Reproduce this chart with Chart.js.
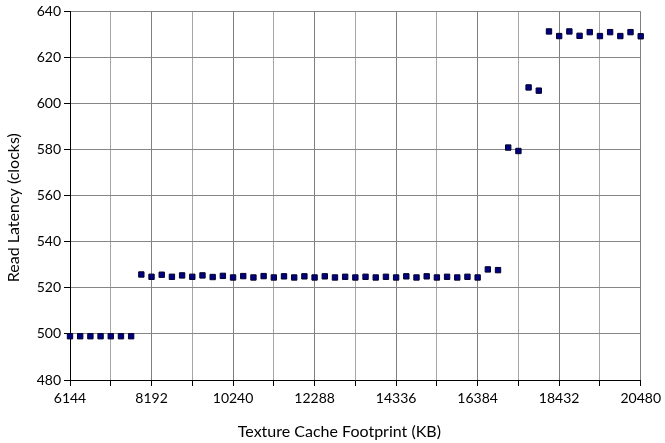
<!DOCTYPE html>
<html>
<head>
<meta charset="utf-8">
<script src="https://cdn.jsdelivr.net/npm/chart.js@4"></script>
<style>
  html, body { margin: 0; padding: 0; background: #fff; }
  #wrap { width: 665px; height: 443px; }
</style>
</head>
<body>
<div id="wrap"><canvas id="latencyChart" width="665" height="443"></canvas></div>
<script>
// Texture cache footprint (KB), one sample every 256 KB
const footprintKB = [
  6144, 6400, 6656, 6912, 7168, 7424, 7680,
  7936, 8192, 8448, 8704, 8960, 9216, 9472, 9728, 9984, 10240, 10496,
  10752, 11008, 11264, 11520, 11776, 12032, 12288, 12544, 12800, 13056, 13312,
  13568, 13824, 14080, 14336, 14592, 14848, 15104, 15360, 15616, 15872, 16128, 16384,
  16640, 16896, 17152, 17408, 17664, 17920,
  18176, 18432, 18688, 18944, 19200, 19456, 19712, 19968, 20224, 20480
];

// Read latency (clocks)
const readLatency = [
  499, 499, 499, 499, 499, 499, 499,
  525.8, 524.8, 525.7, 524.8, 525.4, 524.8, 525.4, 524.7, 525.2, 524.5, 525.1,
  524.5, 525.1, 524.5, 525.0, 524.5, 525.0, 524.5, 525.0, 524.5, 524.8, 524.5,
  524.8, 524.5, 524.8, 524.5, 525.0, 524.5, 525.0, 524.5, 524.8, 524.5, 524.8, 524.5,
  528.0, 527.7, 580.9, 579.4, 607.0, 605.6,
  631.3, 629.3, 631.3, 629.4, 631.0, 629.3, 631.0, 629.3, 631.0, 629.2
];

const xTickLabels = ['6144', '8192', '10240', '12288', '14336', '16384', '18432', '20480'];
const yTickLabels = ['480', '500', '520', '540', '560', '580', '600', '620', '640'];

const xTitle = 'Texture Cache Footprint (KB)';
const yTitle = 'Read Latency (clocks)';

const fontFamily = 'Lato, "Open Sans", sans-serif';

const points = footprintKB.map((x, i) => ({ x: x, y: readLatency[i] }));

// axis titles sit a little off-centre in the original, so draw them by hand
const axisTitles = {
  id: 'axisTitles',
  afterDraw(chart) {
    const { ctx, chartArea } = chart;
    ctx.save();
    ctx.fillStyle = '#000';
    ctx.font = '16px ' + fontFamily;
    ctx.textAlign = 'center';
    ctx.textBaseline = 'middle';
    ctx.fillText(xTitle, (chartArea.left + chartArea.right) / 2 - 16, 432);
    ctx.translate(13.5, (chartArea.top + chartArea.bottom) / 2 + 12);
    ctx.rotate(-Math.PI / 2);
    ctx.fillText(yTitle, 0, 0);
    ctx.restore();
  }
};

const ctx = document.getElementById('latencyChart').getContext('2d');

new Chart(ctx, {
  type: 'scatter',
  data: {
    datasets: [{
      label: 'Read Latency',
      data: points,
      pointStyle: 'rect',
      pointRadius: 3.8,
      pointBackgroundColor: '#000080',
      pointBorderColor: '#00002a',
      pointBorderWidth: 1,
      clip: false
    }]
  },
  options: {
    responsive: false,
    animation: false,
    devicePixelRatio: 1,
    layout: { padding: { top: 11, right: 21, left: 0, bottom: 0 } },
    plugins: {
      legend: { display: false },
      tooltip: { enabled: false }
    },
    scales: {
      x: {
        type: 'linear',
        min: 6144,
        max: 20480,
        afterFit: scale => { scale.height = 63; },
        afterBuildTicks: scale => {
          const ticks = [];
          for (let v = 6144; v <= 20480; v += 1024) ticks.push({ value: v });
          scale.ticks = ticks;
        },
        ticks: {
          autoSkip: false,
          maxRotation: 0,
          padding: 4,
          color: '#000',
          font: { family: fontFamily, size: 14 },
          callback: value => xTickLabels.includes(String(value)) ? String(value) : ''
        },
        grid: {
          color: c => xTickLabels.includes(String(c.tick && c.tick.value)) ? '#7f7f7f' : '#a6a6a6',
          tickColor: '#000',
          tickLength: 6,
          lineWidth: 1
        },
        border: { color: '#000', width: 1 }
      },
      y: {
        min: 480,
        max: 640,
        afterFit: scale => { scale.width = 70; },
        ticks: {
          stepSize: 20,
          padding: 3,
          color: '#000',
          font: { family: fontFamily, size: 14 },
          callback: value => yTickLabels.includes(String(value)) ? String(value) : ''
        },
        grid: {
          color: '#868686',
          tickColor: '#000',
          tickLength: 6,
          lineWidth: 1
        },
        border: { color: '#000', width: 1 }
      }
    }
  },
  plugins: [axisTitles]
});
</script>
</body>
</html>
